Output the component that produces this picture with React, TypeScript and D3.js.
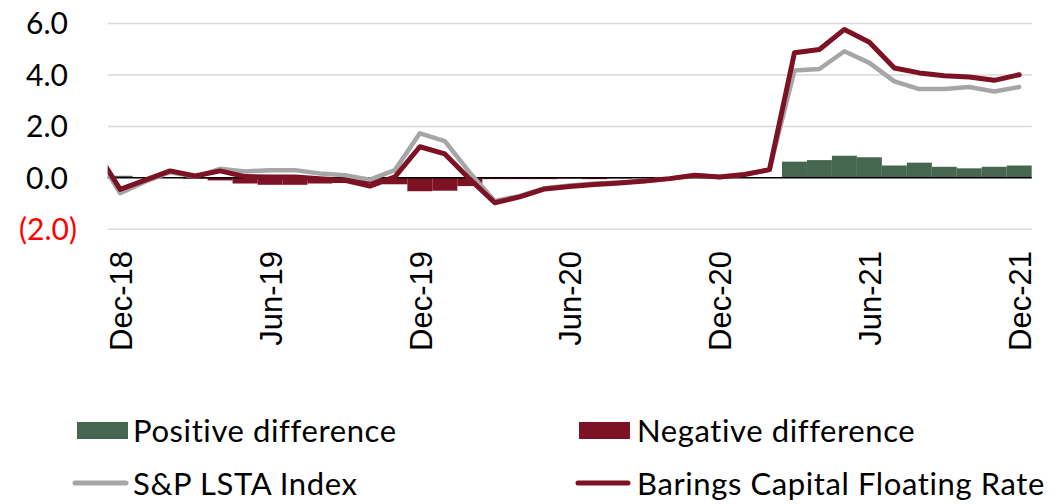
import React from "react";
import * as d3 from "d3";

const months = [
  "Dec-18","Jan-19","Feb-19","Mar-19","Apr-19","May-19","Jun-19","Jul-19","Aug-19","Sep-19","Oct-19","Nov-19",
  "Dec-19","Jan-20","Feb-20","Mar-20","Apr-20","May-20","Jun-20","Jul-20","Aug-20","Sep-20","Oct-20","Nov-20",
  "Dec-20","Jan-21","Feb-21","Mar-21","Apr-21","May-21","Jun-21","Jul-21","Aug-21","Sep-21","Oct-21","Nov-21",
  "Dec-21",
];
const tickLabels = ["Dec-18","Jun-19","Dec-19","Jun-20","Dec-20","Jun-21","Dec-21"];

// value of the month before Dec-18 (only the clipped stub is visible)
const baringsPrior = 1.1;
const lstaPrior = 1.0;

const barings = [
  -0.45, -0.09, 0.27, 0.07, 0.27, 0.05, 0.03, 0.03, -0.03, -0.1, -0.32, 0.04,
  1.21, 0.93, -0.05, -0.97, -0.74, -0.43, -0.34, -0.26, -0.2, -0.12, -0.03, 0.1,
  0.03, 0.13, 0.32, 4.86, 4.99, 5.77, 5.27, 4.27, 4.08, 3.97, 3.92, 3.79,
  4.01,
];
const lsta = [
  -0.6, -0.15, 0.22, 0.05, 0.35, 0.25, 0.3, 0.3, 0.17, 0.1, -0.07, 0.3,
  1.73, 1.43, 0.2, -0.9, -0.7, -0.4, -0.3, -0.22, -0.18, -0.12, -0.03, 0.1,
  0.03, 0.13, 0.32, 4.17, 4.23, 4.92, 4.47, 3.75, 3.45, 3.45, 3.53, 3.36,
  3.53,
];
const difference = [
  0.08, 0.0, 0.0, -0.03, -0.1, -0.22, -0.27, -0.27, -0.22, -0.2, -0.22, -0.25,
  -0.52, -0.5, -0.32, -0.05, -0.05, -0.05, -0.03, -0.05, -0.02, 0, 0, 0,
  0, 0, 0, 0.63, 0.69, 0.86, 0.8, 0.48, 0.59, 0.43, 0.37, 0.43,
  0.48,
];

const yTicks = [6, 4, 2, 0, -2];

const W = 1060, H = 504;
const left = 107.7, right = 1031.7;
const GREEN = "#476650", RED = "#7d1225", GRAY = "#a6a6a6";

export default function App() {
  const n = months.length;
  const x = d3.scaleLinear().domain([-0.5, n - 0.5]).range([left, right]);
  const y = d3.scaleLinear().domain([-2, 6]).range([229.3, 23.5]);

  const lineGen = d3.line<[number, number]>().x((d) => x(d[0])).y((d) => y(d[1]));
  const bPts: [number, number][] = [[-1, baringsPrior], ...barings.map((v, i) => [i, v] as [number, number])];
  const lPts: [number, number][] = [[-1, lstaPrior], ...lsta.map((v, i) => [i, v] as [number, number])];

  const fmt = (v: number) => (v < 0 ? `(${Math.abs(v).toFixed(1)})` : v.toFixed(1));
  const font = "Lato, 'Noto Sans', sans-serif";

  return (
    <svg width={W} height={H} style={{ position: "absolute", left: 0, top: 0, background: "#fff" }}>
      <defs>
        <clipPath id="plot">
          <rect x={left} y={0} width={right - left} height={260} />
        </clipPath>
      </defs>
      {yTicks.filter((t) => t !== 0).map((t) => (
        <line key={t} x1={left} x2={right} y1={y(t)} y2={y(t)} stroke="#d9d9d9" strokeWidth={1.5} />
      ))}
      {yTicks.map((t) => (
        <text key={t} x={t < 0 ? 77 : 68} y={y(t)} dy="0.36em" textAnchor="end"
          fontFamily={font} fontSize={30} fill={t < 0 ? "#ff0000" : "#000"}>
          {fmt(t)}
        </text>
      ))}
      {difference.map((v, i) => (
        <rect key={i} x={x(i - 0.5)} width={x(i + 0.5) - x(i - 0.5)}
          y={v >= 0 ? y(v) : y(0)} height={Math.abs(y(v) - y(0))}
          fill={v >= 0 ? GREEN : RED} />
      ))}
      <line x1={left} x2={right} y1={y(0)} y2={y(0)} stroke="#000" strokeWidth={1.5} />
      <g clipPath="url(#plot)">
        <path d={lineGen(lPts) || ""} fill="none" stroke={GRAY} strokeWidth={4.5} strokeLinejoin="round" strokeLinecap="round" />
        <path d={lineGen(bPts) || ""} fill="none" stroke={RED} strokeWidth={5} strokeLinejoin="round" strokeLinecap="round" />
      </g>
      {tickLabels.map((m) => {
        const i = months.indexOf(m);
        return (
          <text key={m} transform={`translate(${x(i)},251) rotate(-90)`} dy="0.38em" textAnchor="end"
            fontFamily="'Liberation Sans', Arial, sans-serif" fontSize={31} fill="#000">
            {m}
          </text>
        );
      })}
      <g fontFamily={font} fontSize={31} letterSpacing={0.6} fill="#000">
        <rect x={77} y={422} width={51} height={17} fill={GREEN} />
        <text x={133} y={442}>Positive difference</text>
        <rect x={579} y={422} width={51} height={17} fill={RED} />
        <text x={637} y={442}>Negative difference</text>
        <line x1={75} x2={126} y1={483} y2={483} stroke={GRAY} strokeWidth={5} strokeLinecap="round" />
        <text x={133} y={495}>S&amp;P LSTA Index</text>
        <line x1={578} x2={628} y1={483} y2={483} stroke={RED} strokeWidth={5} strokeLinecap="round" />
        <text x={637} y={495}>Barings Capital Floating Rate</text>
      </g>
    </svg>
  );
}
